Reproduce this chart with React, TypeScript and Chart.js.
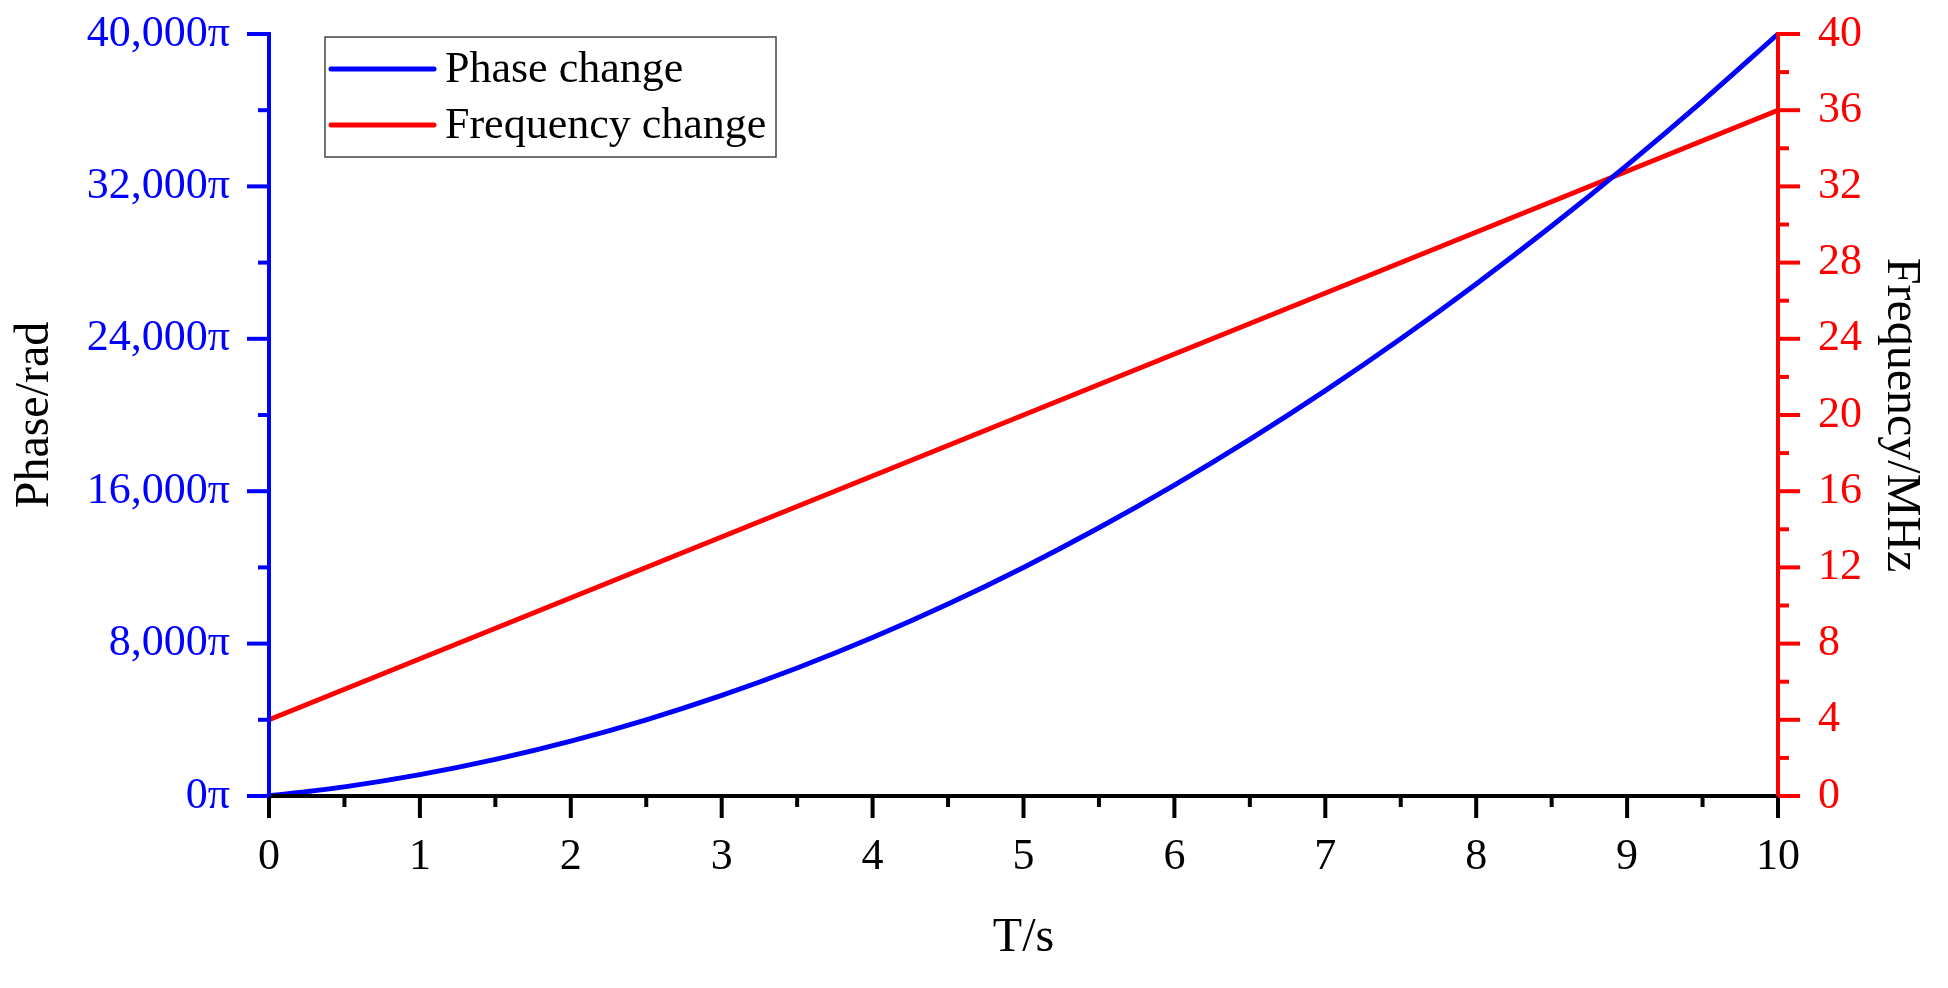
import React, { useEffect, useRef } from "react";
import { Chart, registerables } from "chart.js";

Chart.register(...registerables);

// ---- Data ----
const timeS = [0, 0.5, 1, 1.5, 2, 2.5, 3, 3.5, 4, 4.5, 5, 5.5, 6, 6.5, 7, 7.5, 8, 8.5, 9, 9.5, 10];
const phasePi = [0, 480, 1120, 1920, 2880, 4000, 5280, 6720, 8320, 10080, 12000, 14080, 16320, 18720, 21280, 24000, 26880, 29920, 33120, 36480, 40000];
const freqTimeS = [0, 10];
const freqMHz = [4, 36];

const seriesNames = ["Phase change", "Frequency change"];

// ---- Axis settings ----
const xMin = 0, xMax = 10, xMajor = 1, xMinor = 0.5;
const phaseMin = 0, phaseMax = 40000, phaseMajor = 8000, phaseMinor = 4000;
const freqMin = 0, freqMax = 40, freqMajor = 4, freqMinor = 2;

const BLUE = "#0000FF";
const RED = "#FF0000";
const BLACK = "#000000";
const FONT = "'Liberation Serif', 'Times New Roman', serif";

const axesPlugin = {
  id: "originAxes",
  afterDraw(chart: any) {
    const { ctx, chartArea } = chart;
    const { left, right, top, bottom } = chartArea;
    const sx = chart.scales.x, sy = chart.scales.y, sy1 = chart.scales.y1;
    const lw = 4, major = 22, minor = 11;
    ctx.save();
    ctx.lineCap = "butt";
    const line = (x1: number, y1: number, x2: number, y2: number, c: string) => {
      ctx.strokeStyle = c;
      ctx.lineWidth = lw;
      ctx.beginPath();
      ctx.moveTo(x1, y1);
      ctx.lineTo(x2, y2);
      ctx.stroke();
    };
    const isMajor = (v: number, step: number) => Math.abs(v / step - Math.round(v / step)) < 1e-6;
    // x axis
    line(left - lw / 2, bottom, right + lw / 2, bottom, BLACK);
    for (let v = xMin; v <= xMax + 1e-9; v += xMinor) {
      const px = sx.getPixelForValue(v);
      line(px, bottom, px, bottom + (isMajor(v, xMajor) ? major : minor), BLACK);
    }
    // left axis
    line(left, top - lw / 2, left, bottom, BLUE);
    for (let v = phaseMin; v <= phaseMax + 1e-9; v += phaseMinor) {
      const py = sy.getPixelForValue(v);
      line(left, py, left - (isMajor(v, phaseMajor) ? major : minor), py, BLUE);
    }
    // right axis
    line(right, top - lw / 2, right, bottom, RED);
    for (let v = freqMin; v <= freqMax + 1e-9; v += freqMinor) {
      const py = sy1.getPixelForValue(v);
      line(right, py, right + (isMajor(v, freqMajor) ? major : minor), py, RED);
    }
    ctx.restore();
  },
};

const legendPlugin = {
  id: "boxLegend",
  afterDraw(chart: any) {
    const { ctx, chartArea } = chart;
    const bx = chartArea.left + 56;
    const by = chartArea.top + 3;
    const bw = 451, bh = 120;
    ctx.save();
    ctx.fillStyle = "#ffffff";
    ctx.fillRect(bx, by, bw, bh);
    ctx.strokeStyle = "#444444";
    ctx.lineWidth = 1.5;
    ctx.strokeRect(bx, by, bw, bh);
    ctx.font = `44px ${FONT}`;
    ctx.textBaseline = "middle";
    ctx.textAlign = "left";
    chart.data.datasets.forEach((ds: any, i: number) => {
      const y = by + 32 + i * 56;
      ctx.strokeStyle = ds.borderColor;
      ctx.lineWidth = 5;
      ctx.lineCap = "round";
      ctx.beginPath();
      ctx.moveTo(bx + 6, y);
      ctx.lineTo(bx + 109, y);
      ctx.stroke();
      ctx.fillStyle = BLACK;
      ctx.fillText(ds.label, bx + 120, y + 1);
    });
    ctx.restore();
  },
};

export default function App() {
  const ref = useRef<HTMLCanvasElement | null>(null);
  useEffect(() => {
    document.body.style.margin = "0";
    const canvas = ref.current!;
    Chart.defaults.font.family = FONT;
    const chart = new Chart(canvas, {
      type: "line",
      data: {
        datasets: [
          {
            label: seriesNames[0],
            data: timeS.map((t, i) => ({ x: t, y: phasePi[i] })),
            borderColor: BLUE,
            backgroundColor: BLUE,
            borderWidth: 5,
            pointRadius: 0,
            cubicInterpolationMode: "monotone",
            yAxisID: "y",
            clip: false,
          },
          {
            label: seriesNames[1],
            data: freqTimeS.map((t, i) => ({ x: t, y: freqMHz[i] })),
            borderColor: RED,
            backgroundColor: RED,
            borderWidth: 5,
            pointRadius: 0,
            yAxisID: "y1",
            clip: false,
          },
        ],
      },
      options: {
        animation: false,
        responsive: false,
        devicePixelRatio: 1,
        layout: { padding: { top: 34, left: 0, right: 0, bottom: 0 } },
        plugins: { legend: { display: false }, tooltip: { enabled: false } },
        scales: {
          x: {
            type: "linear",
            min: xMin,
            max: xMax,
            grid: { display: false, drawTicks: false },
            border: { display: false },
            ticks: { stepSize: xMajor, color: BLACK, font: { size: 44 }, padding: 35, maxRotation: 0 },
            title: { display: true, text: "T/s", color: BLACK, font: { size: 48 }, padding: { top: 0, bottom: 21 } },
            afterFit: (s: any) => { s.height = 192; s.paddingLeft = 0; s.paddingRight = 0; },
          },
          y: {
            type: "linear",
            position: "left",
            min: phaseMin,
            max: phaseMax,
            grid: { display: false, drawTicks: false },
            border: { display: false },
            ticks: {
              stepSize: phaseMajor,
              color: BLUE,
              font: { size: 44 },
              padding: 39,
              callback: (v: any) => Number(v).toLocaleString("en-US") + "π",
            },
            title: { display: true, text: "Phase/rad", color: BLACK, font: { size: 48 }, padding: { top: 7, bottom: 0 } },
            afterFit: (s: any) => { s.width = 269; s.paddingTop = 0; s.paddingBottom = 0; },
          },
          y1: {
            type: "linear",
            position: "right",
            min: freqMin,
            max: freqMax,
            grid: { display: false, drawTicks: false },
            border: { display: false },
            ticks: { stepSize: freqMajor, color: RED, font: { size: 44 }, padding: 40 },
            title: { display: true, text: "Frequency/MHz", color: BLACK, font: { size: 48 }, padding: { top: 19, bottom: 0 } },
            afterFit: (s: any) => { s.width = 170; s.paddingTop = 0; s.paddingBottom = 0; },
          },
        },
      },
      plugins: [axesPlugin, legendPlugin],
    } as any);
    return () => chart.destroy();
  }, []);
  return <canvas ref={ref} width={1948} height={988} style={{ display: "block", width: 1948, height: 988 }} />;
}
